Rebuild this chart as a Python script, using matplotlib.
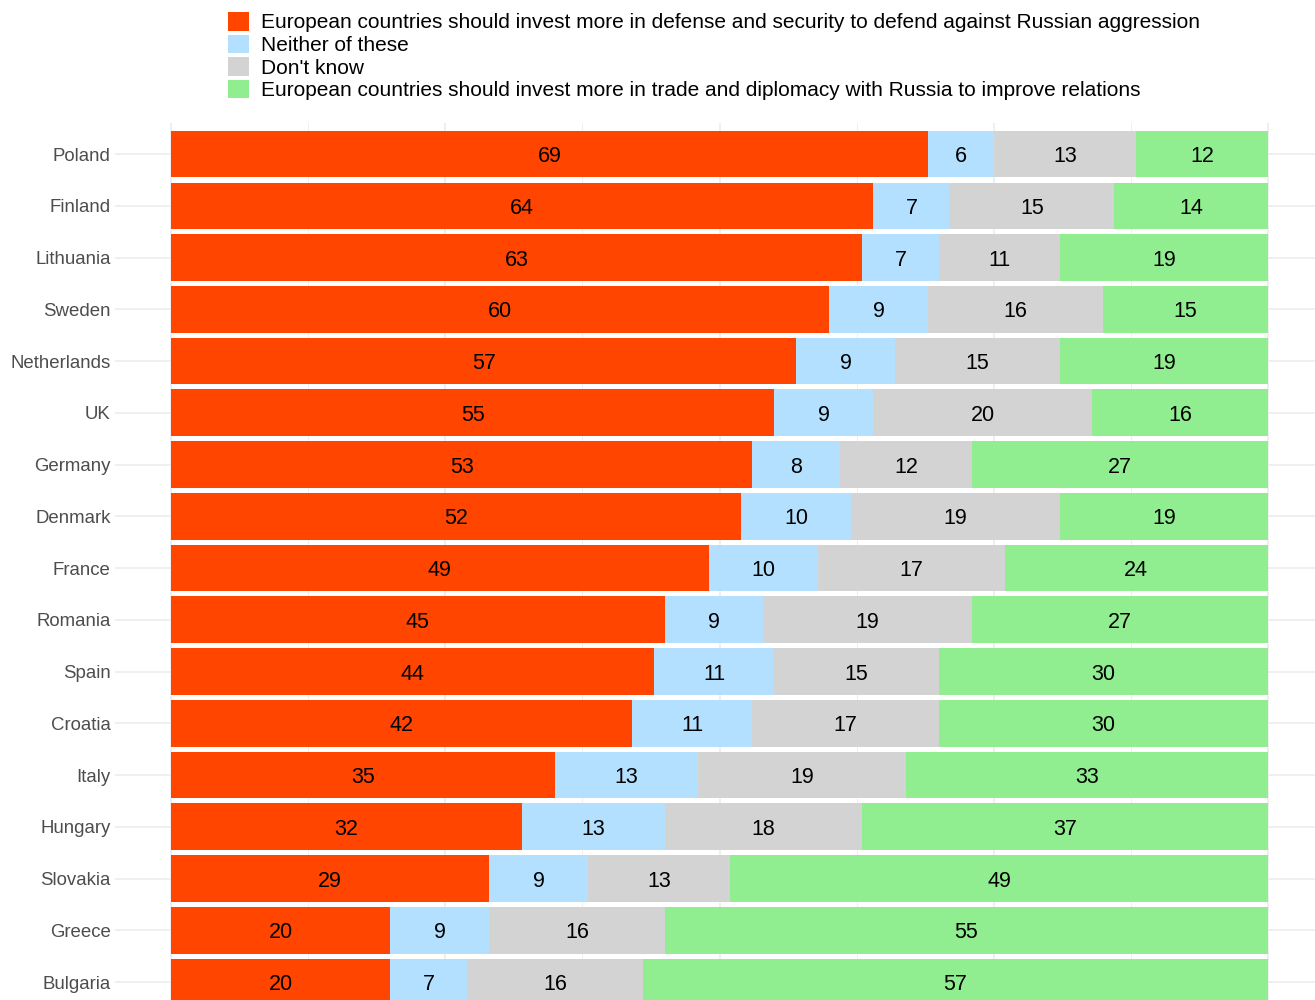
import matplotlib
matplotlib.use("Agg")
import matplotlib.pyplot as plt
import numpy as np

plt.rcParams['font.family'] = ['Liberation Sans', 'DejaVu Sans']

countries = ["Poland", "Finland", "Lithuania", "Sweden", "Netherlands", "UK", "Germany",
             "Denmark", "France", "Romania", "Spain", "Croatia", "Italy", "Hungary",
             "Slovakia", "Greece", "Bulgaria"]
defense = [69, 64, 63, 60, 57, 55, 53, 52, 49, 45, 44, 42, 35, 32, 29, 20, 20]
neither = [6, 7, 7, 9, 9, 9, 8, 10, 10, 9, 11, 11, 13, 13, 9, 9, 7]
dontknow = [13, 15, 11, 16, 15, 20, 12, 19, 17, 19, 15, 17, 19, 18, 13, 16, 16]
trade = [12, 14, 19, 15, 19, 16, 27, 19, 24, 27, 30, 30, 33, 37, 49, 55, 57]

series_labels = [
    "European countries should invest more in defense and security to defend against Russian aggression",
    "Neither of these",
    "Don't know",
    "European countries should invest more in trade and diplomacy with Russia to improve relations",
]
colors = ["#FF4500", "#B3E0FF", "#D3D3D3", "#90EE90"]

W, H = 1315, 1000
fig = plt.figure(figsize=(W / 100, H / 100), dpi=100)
# axes in pixel coords: left 115, right 1315, top 123, bottom 1000
ax = fig.add_axes([115 / W, 0, (1315 - 115) / W, (1000 - 123) / H])

y = np.arange(len(countries))
data = [defense, neither, dontknow, trade]
left = np.zeros(len(countries))
handles = []
for vals, col, lab in zip(data, colors, series_labels):
    vals = np.array(vals, dtype=float)
    b = ax.barh(y, vals, left=left, height=0.9, color=col, label=lab, zorder=2)
    handles.append(b)
    for yi, l, v in zip(y, left, vals):
        ax.text(l + v / 2, yi, f"{int(v)}", ha="center", va="center_baseline",
                fontsize=15.5, color="black", zorder=3)
    left += vals

# grid
for gx in np.arange(0, 100.1, 12.5):
    major = (gx % 25 == 0)
    ax.axvline(gx, color="#EBEBEB", lw=1.1 if major else 0.55, zorder=0)
for yi in y:
    ax.axhline(yi, color="#EBEBEB", lw=1.1, zorder=0)

unit = (1268 - 171) / 100.0
ax.set_xlim((115 - 171) / unit, (1315 - 171) / unit)
ax.set_ylim(16 + 18 / 51.75, -0.6)
ax.set_yticks(y)
ax.set_yticklabels(countries, fontsize=13.4, color="#4D4D4D")
ax.tick_params(axis="y", length=0, pad=3)
ax.set_xticks([])
for s in ax.spines.values():
    s.set_visible(False)

fig.legend(handles=handles, labels=series_labels, loc="upper left",
           bbox_to_anchor=(228 / W, 1 - 12 / H), frameon=False, fontsize=15,
           handlelength=1.0, handleheight=1.0, handletextpad=0.6,
           labelspacing=0.1, borderpad=0, borderaxespad=0)

fig.savefig("out.png", dpi=100)
